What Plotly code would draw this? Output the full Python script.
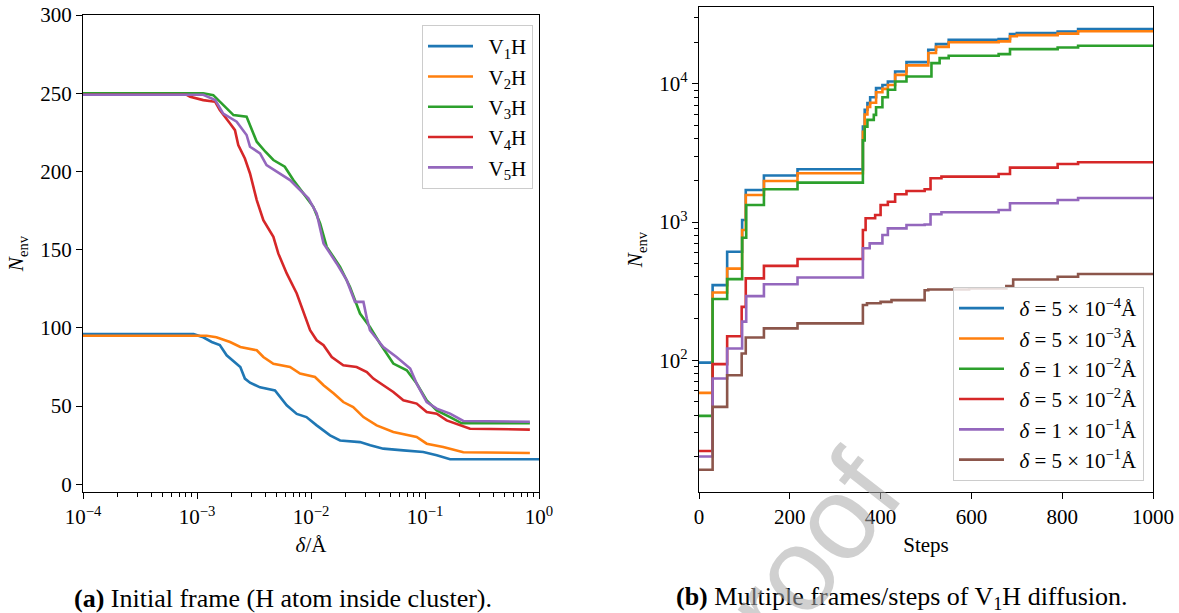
import numpy as np
import plotly.graph_objects as go

# ---------------- Panel (a): N_env vs delta (log10 of delta, N_env) ----------------
a_names = ["V<sub>1</sub>H", "V<sub>2</sub>H", "V<sub>3</sub>H", "V<sub>4</sub>H", "V<sub>5</sub>H"]

v1h_log_delta = [-4, -3.03, -2.945, -2.871, -2.80, -2.74, -2.62, -2.58, -2.535, -2.447, -2.316,
                 -2.213, -2.125, -2.04, -1.95, -1.833, -1.745, -1.57, -1.48, -1.366, -1.19,
                 -1.015, -0.897, -0.78, 0]
v1h_n = [96, 96, 94, 91, 89, 82.5, 75, 67.6, 65, 62, 60, 50.5, 45, 43, 37.7, 31.3, 28, 27, 25,
         22.8, 21.7, 20.7, 18.6, 16, 16]

v2h_log_delta = [-4, -2.915, -2.83, -2.71, -2.62, -2.476, -2.418, -2.33, -2.184, -2.096, -1.965,
                 -1.89, -1.80, -1.717, -1.63, -1.54, -1.424, -1.278, -1.073, -0.985, -0.84,
                 -0.664, -0.08]
v2h_n = [95, 95, 94, 91, 87.8, 85.7, 81.4, 77, 75, 70.8, 68.6, 63.3, 58, 52.6, 49.4, 43, 37.7,
         33.5, 30.3, 26, 23.9, 20.5, 20]

v3h_log_delta = [-4, -2.945, -2.857, -2.77, -2.68, -2.565, -2.52, -2.476, -2.40, -2.33, -2.23,
                 -2.155, -2.067, -1.98, -1.92, -1.862, -1.745, -1.658, -1.57, -1.483, -1.395,
                 -1.278, -1.16, -1.073, -0.985, -0.897, -0.78, -0.678, -0.08]
v3h_n = [250, 250, 248.8, 242.4, 236, 235, 226.4, 219, 212.6, 207.3, 203, 194.5, 186, 177.4,
         166.7, 151.8, 139, 126.2, 109.2, 100.6, 90, 77.2, 72.9, 64.4, 53.7, 47.3, 43, 39, 39]

v4h_log_delta = [-4, -3.09, -3.06, -2.945, -2.84, -2.80, -2.71, -2.667, -2.638, -2.58, -2.535,
                 -2.476, -2.418, -2.33, -2.287, -2.213, -2.125, -2.05, -2.008, -1.95, -1.89,
                 -1.818, -1.717, -1.60, -1.51, -1.453, -1.366, -1.278, -1.19, -1.073, -0.985,
                 -0.897, -0.81, -0.693, -0.605, -0.08]
v4h_n = [249, 249, 247.7, 245.6, 244.5, 239.2, 230.7, 226.4, 216.9, 208.3, 198.7, 181.7, 168.9,
         158.2, 147.6, 134.8, 122, 107, 98.5, 92.1, 88.9, 81.4, 76.1, 75, 71.8, 67.6, 63.3, 59,
         53.7, 51.6, 46.2, 45.2, 40.9, 37.7, 35.5, 35]

v5h_log_delta = [-4, -2.945, -2.84, -2.77, -2.652, -2.565, -2.535, -2.447, -2.39, -2.272, -2.184,
                 -2.125, -2.023, -1.95, -1.89, -1.775, -1.687, -1.614, -1.54, -1.51, -1.483,
                 -1.366, -1.25, -1.13, -1.073, -0.985, -0.897, -0.78, -0.664, -0.08]
v5h_n = [249, 249, 245.6, 237, 231.8, 223.3, 215.8, 211.6, 204, 198.7, 194.5, 190.2, 182.8,
         173.2, 154, 141.2, 130.5, 116.6, 116.6, 106, 98.5, 87.8, 81.4, 74, 64.4, 52.6, 48.4,
         45.2, 40.5, 40]

a_x = [v1h_log_delta, v2h_log_delta, v3h_log_delta, v4h_log_delta, v5h_log_delta]
a_y = [v1h_n, v2h_n, v3h_n, v4h_n, v5h_n]

# ---------------- Panel (b): N_env vs Steps ----------------
b_names = ["<i>δ</i> = 5 × 10<sup>−4</sup>Å", "<i>δ</i> = 5 × 10<sup>−3</sup>Å",
           "<i>δ</i> = 1 × 10<sup>−2</sup>Å", "<i>δ</i> = 5 × 10<sup>−2</sup>Å",
           "<i>δ</i> = 1 × 10<sup>−1</sup>Å", "<i>δ</i> = 5 × 10<sup>−1</sup>Å"]

d1_steps = [0, 30, 62, 95, 103, 143, 217, 361, 365, 371, 377, 390, 404, 416, 432, 457, 505, 522,
            550, 660, 685, 700, 790, 835, 1000]
d1_n = [96, 349, 609, 1033, 1706, 2170, 2410, 4900, 6490, 7250, 8000, 9310, 9800, 10400, 12290,
        14360, 17630, 19370, 20830, 21090, 22930, 23300, 23930, 24900, 24900]

d2_steps = [0, 30, 62, 95, 103, 143, 217, 361, 365, 371, 377, 390, 404, 416, 432, 457, 505, 522,
            550, 660, 685, 700, 790, 835, 1000]
d2_n = [58, 309, 460, 875, 1570, 1982, 2254, 4500, 6000, 6800, 7300, 8700, 9200, 9800, 11600,
        13600, 16700, 18500, 20000, 20300, 22100, 22500, 23100, 24000, 24000]

d3_steps = [0, 30, 62, 95, 104, 143, 217, 361, 365, 371, 385, 390, 404, 416, 432, 457, 512, 530,
            550, 660, 685, 790, 835, 1000]
d3_n = [39.5, 277, 386, 769, 1327, 1725, 1928, 3900, 4900, 5480, 5960, 6770, 8000, 9050, 10400,
        11300, 14130, 15350, 15960, 16400, 17830, 18320, 18840, 18840]

d4_steps = [0, 30, 62, 94, 103, 143, 217, 361, 367, 388, 400, 416, 432, 457, 497, 510, 534, 660,
            685, 790, 835, 1000]
d4_n = [22, 93.6, 149, 243, 391, 481, 540, 875, 1064, 1124, 1328, 1403, 1587, 1678, 1727, 2075,
        2130, 2228, 2474, 2630, 2705, 2705]

d5_steps = [0, 30, 62, 95, 104, 143, 217, 361, 376, 404, 416, 457, 497, 510, 534, 660, 685, 790,
            835, 1000]
d5_n = [20.1, 73.6, 121.6, 190, 291, 354, 397, 645, 700, 805, 900, 951, 960, 1137, 1176, 1221,
        1367, 1443, 1492, 1492]

d6_steps = [0, 30, 62, 94, 103, 143, 217, 361, 370, 400, 424, 497, 505, 595, 677, 692, 790, 835,
            1000]
d6_n = [16.1, 45.9, 77.8, 111.8, 146, 170, 184.6, 251, 258, 264, 272, 321, 325, 331, 344, 384,
        402, 420, 420]

b_x = [d1_steps, d2_steps, d3_steps, d4_steps, d5_steps, d6_steps]
b_y = [d1_n, d2_n, d3_n, d4_n, d5_n, d6_n]

colors = ["#1f77b4", "#ff7f0e", "#2ca02c", "#d62728", "#9467bd", "#8c564b"]

# tick labels
a_xticks = [1e-4, 1e-3, 1e-2, 1e-1, 1]
a_xticktext = ["10<sup>−4</sup>", "10<sup>−3</sup>", "10<sup>−2</sup>", "10<sup>−1</sup>", "10<sup>0</sup>"]
a_yticks = [0, 50, 100, 150, 200, 250, 300]
b_xticks = [0, 200, 400, 600, 800, 1000]
b_yticks = [100, 1000, 10000]
b_yticktext = ["10<sup>2</sup>", "10<sup>3</sup>", "10<sup>4</sup>"]

FONT = "Liberation Serif"
W, H = 1179, 613
ML, MR, MT, MB = 83, 26, 7, 121
PW, PH = W - ML - MR, H - MT - MB


def px_x(p):
    return (p - ML) / PW


def px_y(p):
    return 1 - (p - MT) / PH


fig = go.Figure()
for i in range(5):
    fig.add_trace(go.Scatter(
        x=10 ** np.array(a_x[i], dtype=float), y=a_y[i], mode="lines",
        name="&nbsp;&nbsp;" + a_names[i],
        line=dict(color=colors[i], width=2.6), xaxis="x", yaxis="y",
        legend="legend", legendgroup="a%d" % i))
for i in range(6):
    fig.add_trace(go.Scatter(
        x=b_x[i], y=b_y[i], mode="lines", name="&nbsp;&nbsp;" + b_names[i], line_shape="hv",
        line=dict(color=colors[i], width=2.6), xaxis="x2", yaxis="y2",
        legend="legend2", legendgroup="b%d" % i))

minor_a = [k * 10.0 ** e for e in range(-4, 0) for k in range(2, 10)]
minor_b = [k * 10.0 ** e for e in range(1, 5) for k in range(2, 10) if k * 10.0 ** e < 36000]

axis_common = dict(showline=True, mirror=True, linecolor="black", linewidth=1.3,
                   ticks="outside", ticklen=6, tickwidth=1.2, tickcolor="black",
                   showgrid=False, zeroline=False, automargin=False,
                   tickfont=dict(family=FONT, size=21, color="black"),
                   title_font=dict(family=FONT, size=21, color="black"))

fig.update_layout(
    width=W, height=H, margin=dict(l=ML, r=MR, t=MT, b=MB, autoexpand=False),
    paper_bgcolor="white", plot_bgcolor="white",
    font=dict(family=FONT, size=20, color="black"),
    xaxis=dict(axis_common, type="log", range=[-4, 0], domain=[0, px_x(539)], anchor="y",
               tickmode="array", tickvals=a_xticks, ticktext=a_xticktext,
               minor=dict(tickmode="array", tickvals=minor_a, ticks="outside", ticklen=3.5,
                          tickwidth=1, tickcolor="black", showgrid=False),
               title=dict(text="<i>δ</i>/Å", standoff=8)),
    yaxis=dict(axis_common, range=[-4.9, 300], domain=[0, px_y(15)], anchor="x",
               tickmode="array", tickvals=a_yticks,
               title=dict(text="<i>N</i><sub>env</sub>", standoff=10)),
    xaxis2=dict(axis_common, range=[0, 1000], domain=[px_x(699), 1], anchor="y2",
                tickmode="array", tickvals=b_xticks,
                title=dict(text="Steps", standoff=8)),
    yaxis2=dict(axis_common, type="log", range=[1.046, 4.556], domain=[0, 1],
                anchor="x2", tickmode="array", tickvals=b_yticks, ticktext=b_yticktext,
                minor=dict(tickmode="array", tickvals=minor_b, ticks="outside", ticklen=3.5,
                           tickwidth=1, tickcolor="black", showgrid=False),
                title=dict(text="<i>N</i><sub>env</sub>", standoff=10)),
    legend=dict(x=px_x(533), y=px_y(25), xanchor="right", yanchor="top",
                bgcolor="rgba(255,255,255,0.8)", bordercolor="#cccccc", borderwidth=1,
                font=dict(family=FONT, size=21, color="black"), itemwidth=45,
                tracegroupgap=0),
    legend2=dict(x=px_x(1144), y=px_y(481), xanchor="right", yanchor="bottom",
                 bgcolor="rgba(255,255,255,0.8)", bordercolor="#cccccc", borderwidth=1,
                 font=dict(family=FONT, size=21, color="black"), itemwidth=45,
                 tracegroupgap=0),
    showlegend=True,
)

fig.add_annotation(text="<b>(a)</b> Initial frame (H atom inside cluster).", xref="paper", yref="paper",
                   x=px_x(283), y=px_y(598), xanchor="center", yanchor="middle", showarrow=False,
                   font=dict(family=FONT, size=26, color="black"))
fig.add_annotation(text="<b>(b)</b> Multiple frames/steps of V<sub>1</sub>H diffusion.", xref="paper",
                   yref="paper", x=px_x(902), y=px_y(598), xanchor="center", yanchor="middle",
                   showarrow=False, font=dict(family=FONT, size=26, color="black"))
# watermark
fig.add_annotation(text="Proof", xref="paper", yref="paper", x=px_x(788), y=px_y(580),
                   xanchor="center", yanchor="middle", showarrow=False, textangle=-52,
                   font=dict(family="Liberation Sans", size=118, color="rgba(170,170,170,0.55)"))

fig.write_html("out.html")
